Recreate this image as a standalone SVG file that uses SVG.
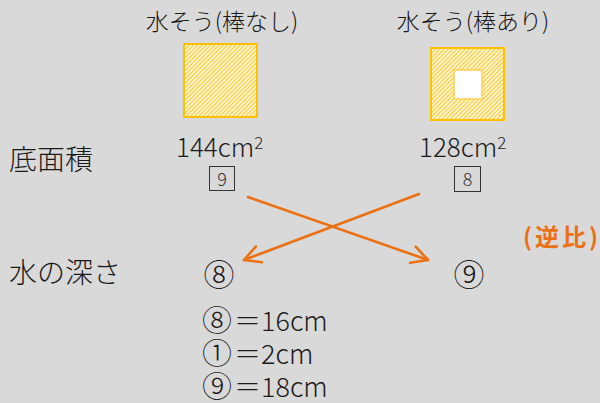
<svg xmlns="http://www.w3.org/2000/svg" width="600" height="403" viewBox="0 0 600 403">
<style>
.t{font-family:"Noto Sans CJK JP","Noto Sans",sans-serif;fill:#1a1a1a;font-weight:300}
.ttl{font-size:23px}
.lbl{font-size:28px}
.area{font-size:26px}
.sup{font-size:17px}
.box{fill:none;stroke:#333;stroke-width:1}
.boxnum{font-size:18px;fill:#333}
.circ{font-size:31px}
.rcirc{font-size:30px}
.row{font-size:27px}
.tank{fill:url(#hatch);stroke:#FFC000;stroke-width:2}
.arr{stroke:#EC7014;stroke-width:2.6;fill:none;stroke-linecap:round}
.ratio{font-size:24px;font-weight:bold;fill:#EC7014}
</style>
<defs>
<pattern id="hatch" patternUnits="userSpaceOnUse" width="3" height="3" patternTransform="rotate(45)">
<rect width="3" height="3" fill="#ffffff"/>
<rect width="1.5" height="3" fill="#FFCC33"/>
</pattern>
<marker id="ah" markerUnits="userSpaceOnUse" markerWidth="24" markerHeight="24" refX="0" refY="0" viewBox="-20 -12 24 24" orient="auto">
<path d="M-16,-8.5 L0,0 L-16,8.5" fill="none" stroke="#EC7014" stroke-width="2.6" stroke-linecap="round" stroke-linejoin="round"/>
</marker>
</defs>
<rect width="600" height="403" fill="#D9D9D9"/>

<g id="tank-no-rod">
<text class="t ttl" x="222" y="30" text-anchor="middle">水そう(棒なし)</text>
<rect class="tank" x="184" y="44" width="73" height="73"/>
</g>
<g id="tank-rod">
<text class="t ttl" x="473" y="30" text-anchor="middle">水そう(棒あり)</text>
<rect class="tank" x="431" y="48" width="73" height="72"/>
<rect x="454" y="70" width="28" height="29" fill="#fff" stroke="#FFD35A" stroke-width="1.6"/>
</g>

<g id="label-area">
<text class="t lbl" x="9" y="170">底面積</text>
</g>
<g id="label-depth">
<text class="t lbl" x="9" y="283">水の深さ</text>
</g>

<g id="area-144">
<text class="t area" x="176" y="157">144cm<tspan class="sup" dy="-8">2</tspan></text>
<rect class="box" x="209.5" y="166.5" width="25" height="24"/>
<text class="t boxnum" x="222" y="185.5" text-anchor="middle">9</text>
</g>
<g id="area-128">
<text class="t area" x="419" y="157">128cm<tspan class="sup" dy="-8">2</tspan></text>
<rect class="box" x="454.5" y="166.5" width="26" height="25"/>
<text class="t boxnum" x="467.5" y="185.5" text-anchor="middle">8</text>
</g>

<g id="depth-8">
<text class="t circ" x="219" y="286" text-anchor="middle">⑧</text>
</g>
<g id="depth-9">
<text class="t circ" x="469" y="286" text-anchor="middle">⑨</text>
</g>

<g id="ratio-label">
<text class="t ratio" x="523" y="246" letter-spacing="3">(逆比)</text>
</g>

<g id="connectors">
<line class="arr" x1="248" y1="197" x2="428" y2="260" marker-end="url(#ah)"/>
<line class="arr" x1="419" y1="194" x2="244" y2="260" marker-end="url(#ah)"/>
</g>

<g id="results">
<text class="t row" x="202" y="331"><tspan class="rcirc">⑧</tspan><tspan dx="2">＝16cm</tspan></text>
<text class="t row" x="202" y="364"><tspan class="rcirc">①</tspan><tspan dx="2">＝2cm</tspan></text>
<text class="t row" x="202" y="397"><tspan class="rcirc">⑨</tspan><tspan dx="2">＝18cm</tspan></text>
</g>
</svg>
